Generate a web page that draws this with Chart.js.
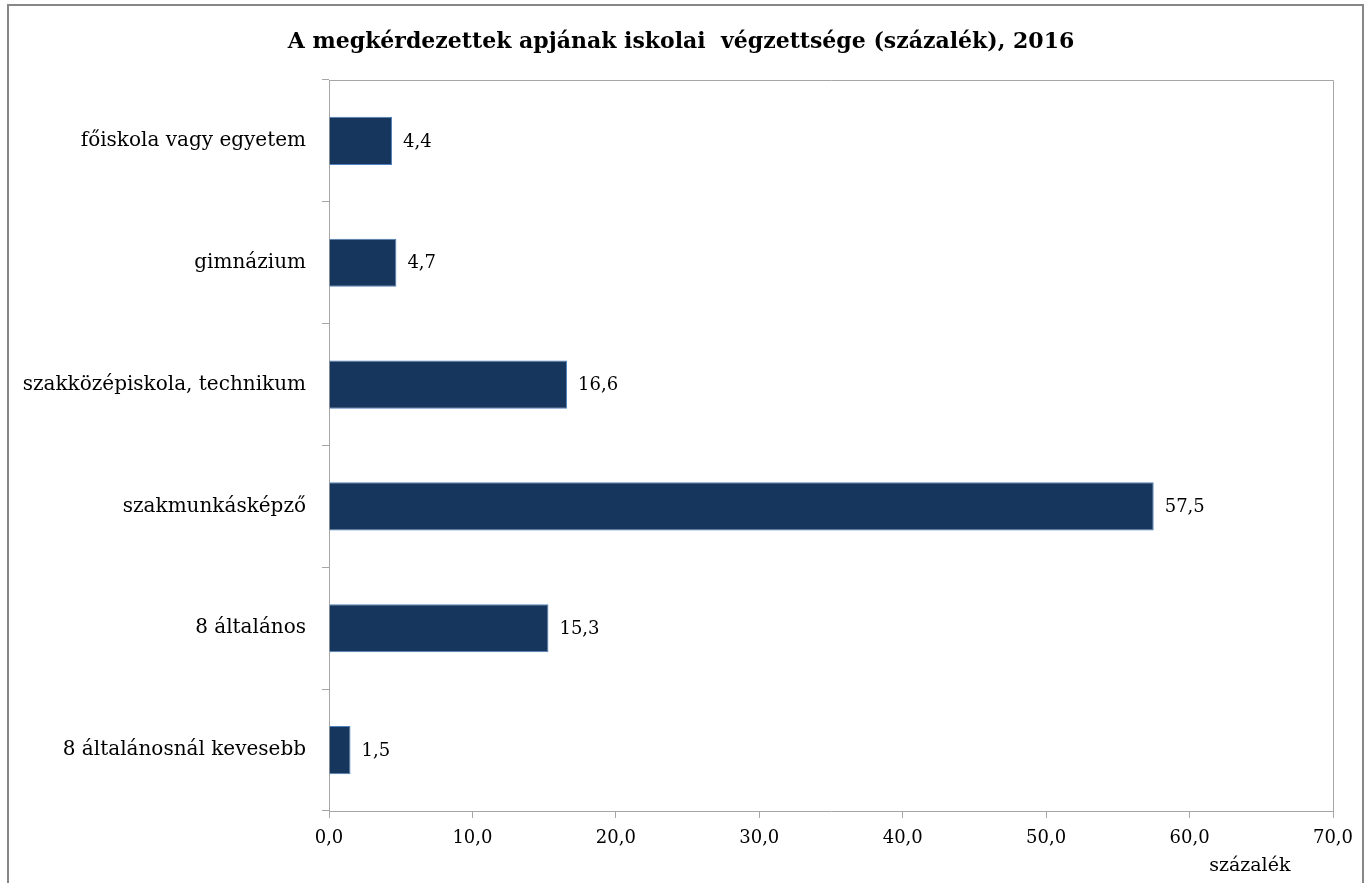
<!DOCTYPE html>
<html>
<head>
<meta charset="utf-8">
<script src="https://cdn.jsdelivr.net/npm/chart.js@4"></script>
<style>
  html, body { margin: 0; padding: 0; background: #fff; }
  #wrap { position: relative; width: 1370px; height: 883px; }
</style>
</head>
<body>
<div id="wrap"><canvas id="c" width="1370" height="883"></canvas></div>
<script>
const categories = ["főiskola vagy egyetem", "gimnázium", "szakközépiskola, technikum", "szakmunkásképző", "8 általános", "8 általánosnál kevesebb"];
const values = [4.4, 4.7, 16.6, 57.5, 15.3, 1.5];
const xTicks = [0, 10, 20, 30, 40, 50, 60, 70];
const titleText = "A megkérdezettek apjának iskolai  végzettsége (százalék), 2016";
const axisTitle = "százalék";

const FONT = "'DejaVu Serif', serif";
const fmt = v => v.toFixed(1).replace('.', ',');

const framePlugin = {
  id: 'frame',
  beforeDraw(chart) {
    const ctx = chart.ctx;
    ctx.save();
    ctx.fillStyle = '#fff';
    ctx.fillRect(0, 0, chart.width, chart.height);
    ctx.strokeStyle = '#878787';
    ctx.lineWidth = 2;
    ctx.beginPath();
    ctx.moveTo(8, 883);
    ctx.lineTo(8, 5);
    ctx.lineTo(1363, 5);
    ctx.lineTo(1363, 883);
    ctx.stroke();
    ctx.restore();
  },
  beforeDatasetsDraw(chart) {
    const a = chart.chartArea, ctx = chart.ctx;
    ctx.save();
    ctx.strokeStyle = '#a6a6a6';
    ctx.lineWidth = 1;
    ctx.beginPath();
    ctx.moveTo(a.left, a.top + 0.5);
    ctx.lineTo(a.right + 0.5, a.top + 0.5);
    ctx.lineTo(a.right + 0.5, a.bottom);
    ctx.stroke();
    ctx.restore();
  },
  afterDatasetsDraw(chart) {
    const ctx = chart.ctx;
    const meta = chart.getDatasetMeta(0);
    ctx.save();
    ctx.font = "18px " + FONT;
    ctx.fillStyle = '#000';
    ctx.textAlign = 'left';
    ctx.textBaseline = 'middle';
    meta.data.forEach((el, i) => {
      ctx.fillText(fmt(values[i]), el.x + 11, el.y + 1);
    });
    const xs = chart.scales.x;
    ctx.textAlign = 'center';
    ctx.font = "19px " + FONT;
    ctx.fillText(axisTitle, xs.getPixelForValue(64.2), 866);
    ctx.restore();
  }
};

new Chart(document.getElementById('c'), {
  type: 'bar',
  data: {
    labels: categories,
    datasets: [{
      data: values,
      backgroundColor: '#17365d',
      borderColor: '#4f81bd',
      borderWidth: 1,
      categoryPercentage: 1,
      barPercentage: 0.395
    }]
  },
  options: {
    indexAxis: 'y',
    responsive: false,
    animation: false,
    events: [],
    layout: { padding: { left: 0, right: 8, top: 0, bottom: 0 } },
    plugins: {
      legend: { display: false },
      tooltip: { enabled: false },
      title: {
        display: true,
        text: titleText,
        color: '#000',
        font: { family: FONT, size: 22, weight: 'bold', lineHeight: 1.2 },
        padding: { top: 29.5, bottom: 24.1 }
      }
    },
    scales: {
      x: {
        min: 0, max: 70,
        afterBuildTicks(s) { s.ticks = xTicks.map(v => ({ value: v })); },
        afterFit(s) { s.height = 72; },
        border: { display: true, color: '#a6a6a6', width: 1 },
        grid: { display: true, drawOnChartArea: false, drawTicks: true, tickLength: 7, color: '#a6a6a6' },
        ticks: {
          color: '#000', padding: 10, maxRotation: 0,
          font: { family: FONT, size: 18 },
          callback: v => fmt(v)
        }
      },
      y: {
        afterFit(s) { s.width = 329; },
        border: { display: true, color: '#a6a6a6', width: 1 },
        grid: { display: true, offset: true, drawOnChartArea: false, drawTicks: true, tickLength: 7, color: '#a6a6a6' },
        ticks: {
          color: '#000', padding: 16,
          font: { family: FONT, size: 20 }
        }
      },
      spacer: {
        type: 'linear',
        position: 'right',
        display: true,
        afterFit(s) { s.width = 29; },
        border: { display: false },
        grid: { display: false },
        ticks: { display: false }
      }
    }
  },
  plugins: [framePlugin]
});
</script>
</body>
</html>
